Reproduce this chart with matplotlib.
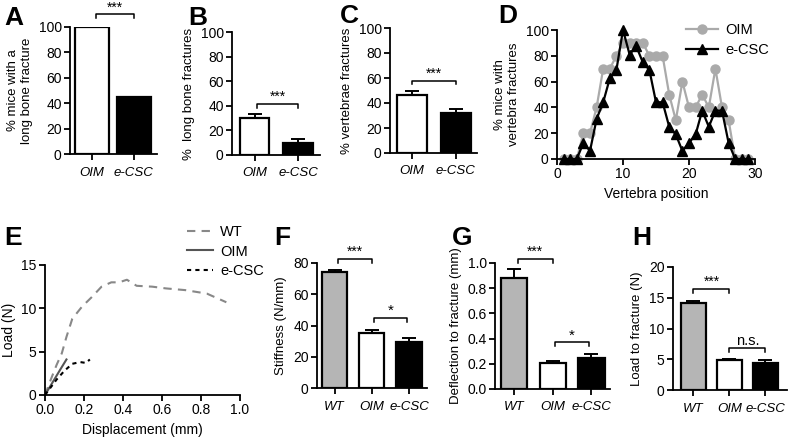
import matplotlib
matplotlib.use("Agg")
import matplotlib.pyplot as plt
from matplotlib.ticker import FormatStrFormatter

plt.rcParams['font.family'] = ['Liberation Sans', 'DejaVu Sans']

# ---- data ----
groups2 = ["OIM", "e-CSC"]
groups3 = ["WT", "OIM", "e-CSC"]

a_vals = [100, 44.5]
b_vals = [30, 9.8]
b_err = [3.3, 3.3]
c_vals = [46.5, 32.2]
c_err = [3.3, 2.7]

vert_pos = list(range(1, 30))
oim_vert = [0, 0, 0, 20, 20, 40, 70, 70, 80, 90, 90, 90, 90, 80, 80, 80,
            50, 30, 60, 40, 40, 50, 40, 70, 40, 30, 0, 0, 0]
ecsc_vert = [0, 0, 0, 12.5, 6.25, 31, 44, 62.5, 69, 100, 81, 87.5, 75, 69,
             44, 44, 25, 19, 6.25, 12.5, 19, 37.5, 25, 37.5, 37.5, 12.5, 0, 0, 0]

wt_disp = [0, 0.03, 0.06, 0.086, 0.11, 0.14, 0.19, 0.24, 0.29, 0.34, 0.38,
           0.42, 0.47, 0.55, 0.62, 0.72, 0.83, 0.93]
wt_load = [0, 1.8, 3.5, 4.8, 6.7, 8.8, 10.2, 11.3, 12.5, 13.0, 13.0, 13.3,
           12.6, 12.5, 12.3, 12.1, 11.7, 10.7]
oim_disp = [0, 0.04, 0.08, 0.11]
oim_load = [0, 1.5, 3.0, 4.1]
ecsc_disp = [0, 0.03, 0.06, 0.1, 0.14, 0.18, 0.21, 0.23]
ecsc_load = [0, 0.9, 1.8, 2.8, 3.6, 3.8, 3.7, 4.1]

f_vals = [74, 35.5, 29.3]
f_err = [1.5, 1.5, 2.4]
g_vals = [0.88, 0.21, 0.25]
g_err = [0.07, 0.01, 0.03]
h_vals = [14.1, 4.9, 4.4]
h_err = [0.45, 0.2, 0.4]

bar_colors2 = ["white", "black"]
bar_colors3 = ["#b5b5b5", "white", "black"]

W, H = 792, 442
fig = plt.figure(figsize=(W / 100, H / 100), dpi=100)


def add_ax(l, r, t, b):
    ax = fig.add_axes([l / W, 1 - b / H, (r - l) / W, (b - t) / H])
    for s in ['top', 'right']:
        ax.spines[s].set_visible(False)
    for s in ['left', 'bottom']:
        ax.spines[s].set_linewidth(1.3)
    ax.tick_params(direction='out', length=4, width=1.3, labelsize=10, pad=2)
    return ax


def bars(ax, names, vals, colors, err=None, width=0.68):
    x = list(range(len(names)))
    ax.bar(x, vals, width=width, color=colors, edgecolor='black', linewidth=1.6, zorder=2)
    if err is not None:
        ax.errorbar(x, vals, yerr=[[0] * len(vals), err], fmt='none', ecolor='black',
                    elinewidth=1.4, capsize=5, capthick=1.4, zorder=1)
    ax.set_xticks(x)
    ax.set_xticklabels(names, fontstyle='italic', fontsize=9.5)
    ax.tick_params(axis='x', pad=5)


def bracket(ax, x1, x2, y, h, text, size=10):
    ax.plot([x1, x1, x2, x2], [y - h, y, y, y - h], color='black', lw=1.1, clip_on=False)
    ax.text((x1 + x2) / 2, y, text, ha='center', va='bottom', fontsize=size)


def letter(x, y, s):
    fig.text(x / W, 1 - y / H, s, fontsize=19, fontweight='bold', va='top', ha='left')


# A
ax = add_ax(70, 157, 27, 154)
bars(ax, groups2, a_vals, bar_colors2, width=0.82)
ax.set_xlim(-0.52, 1.55)
ax.set_ylim(0, 100)
ax.set_yticks(range(0, 101, 20))
ax.set_ylabel("% mice with a\nlong bone fracture", fontsize=9.5)
bracket(ax, 0.1, 1.0, 110, 3, "***")
letter(4, 6, "A")

# B
ax = add_ax(232, 320, 32, 155)
bars(ax, groups2, b_vals, bar_colors2, b_err)
ax.set_xlim(-0.52, 1.5)
ax.set_ylim(0, 100)
ax.set_yticks(range(0, 101, 20))
ax.set_ylabel("%  long bone fractures", fontsize=9.5)
bracket(ax, 0.05, 1.0, 41.5, 3, "***")
letter(188, 6, "B")

# C
ax = add_ax(390, 477, 28, 153)
bars(ax, groups2, c_vals, bar_colors2, c_err)
ax.set_xlim(-0.5, 1.48)
ax.set_ylim(0, 100)
ax.set_yticks(range(0, 101, 20))
ax.set_ylabel("% vertebrae fractures", fontsize=9.5)
bracket(ax, 0.0, 1.0, 58, 3, "***")
letter(340, 4, "C")

# D
ax = add_ax(557, 755, 30, 159)
ax.plot(vert_pos, oim_vert, color='#aaaaaa', marker='o', markersize=6.5, lw=1.6,
        label='OIM', clip_on=False, zorder=2)
ax.plot(vert_pos, ecsc_vert, color='black', marker='^', markersize=6.5, lw=1.6,
        label='e-CSC', clip_on=False, zorder=3)
ax.set_xlim(0, 30)
ax.set_ylim(0, 100)
ax.set_xticks([0, 10, 20, 30])
ax.set_yticks(range(0, 101, 20))
ax.set_xlabel("Vertebra position", fontsize=10)
ax.set_ylabel("% mice with\nvertebra fractures", fontsize=9.5)
ax.legend(loc='upper left', bbox_to_anchor=(0.6, 1.13), frameon=False, fontsize=10.5,
          handlelength=2.2, labelspacing=0.4, borderpad=0.2, handletextpad=0.5)
letter(498, 4, "D")

# E
ax = add_ax(45, 240, 265, 395)
l1, = ax.plot(wt_disp, wt_load, color='#888888', lw=1.5, dashes=(4, 3), label='WT')
l2, = ax.plot(oim_disp, oim_load, color='#555555', lw=1.5, label='OIM')
l3, = ax.plot(ecsc_disp, ecsc_load, color='black', lw=1.5, dashes=(2, 2), label='e-CSC')
ax.set_xlim(0, 1)
ax.set_ylim(0, 15)
ax.set_xticks([0, 0.2, 0.4, 0.6, 0.8, 1.0])
ax.xaxis.set_major_formatter(FormatStrFormatter('%.1f'))
ax.set_yticks([0, 5, 10, 15])
ax.set_xlabel("Displacement (mm)", fontsize=10)
ax.set_ylabel("Load (N)", fontsize=10)
fig.legend(handles=[l1, l2, l3], loc='upper left', bbox_to_anchor=(178 / W, 1 - 216 / H),
           frameon=False, fontsize=10.5, handlelength=1.8, labelspacing=0.4,
           handletextpad=0.5, borderpad=0.1)
letter(4, 226, "E")

# F
ax = add_ax(317, 427, 263, 388)
bars(ax, groups3, f_vals, bar_colors3, f_err)
ax.set_xlim(-0.47, 2.48)
ax.set_ylim(0, 80)
ax.set_yticks(range(0, 81, 20))
ax.set_ylabel("Stiffness (N/mm)", fontsize=9.5)
bracket(ax, 0.1, 1.0, 82.5, 2.5, "***")
bracket(ax, 1.05, 1.95, 45, 2.5, "*", size=11)
letter(274, 226, "F")

# G
ax = add_ax(495, 610, 263, 389)
bars(ax, groups3, g_vals, bar_colors3, g_err)
ax.set_xlim(-0.49, 2.48)
ax.set_ylim(0, 1.0)
ax.set_yticks([0, 0.2, 0.4, 0.6, 0.8, 1.0])
ax.yaxis.set_major_formatter(FormatStrFormatter('%.1f'))
ax.set_ylabel("Deflection to fracture (mm)", fontsize=9.5)
bracket(ax, 0.1, 1.0, 1.03, 0.03, "***")
bracket(ax, 1.05, 1.95, 0.37, 0.03, "*", size=11)
letter(452, 226, "G")

# H
ax = add_ax(673, 787, 267, 390)
bars(ax, groups3, h_vals, bar_colors3, h_err)
ax.set_xlim(-0.57, 2.6)
ax.set_ylim(0, 20)
ax.set_yticks([0, 5, 10, 15, 20])
ax.set_ylabel("Load to fracture (N)", fontsize=9.5)
bracket(ax, 0.0, 1.0, 16.4, 0.7, "***")
bracket(ax, 1.0, 2.0, 6.8, 0.7, "n.s.", size=10.5)
letter(632, 226, "H")

fig.savefig("out.png", dpi=100)
